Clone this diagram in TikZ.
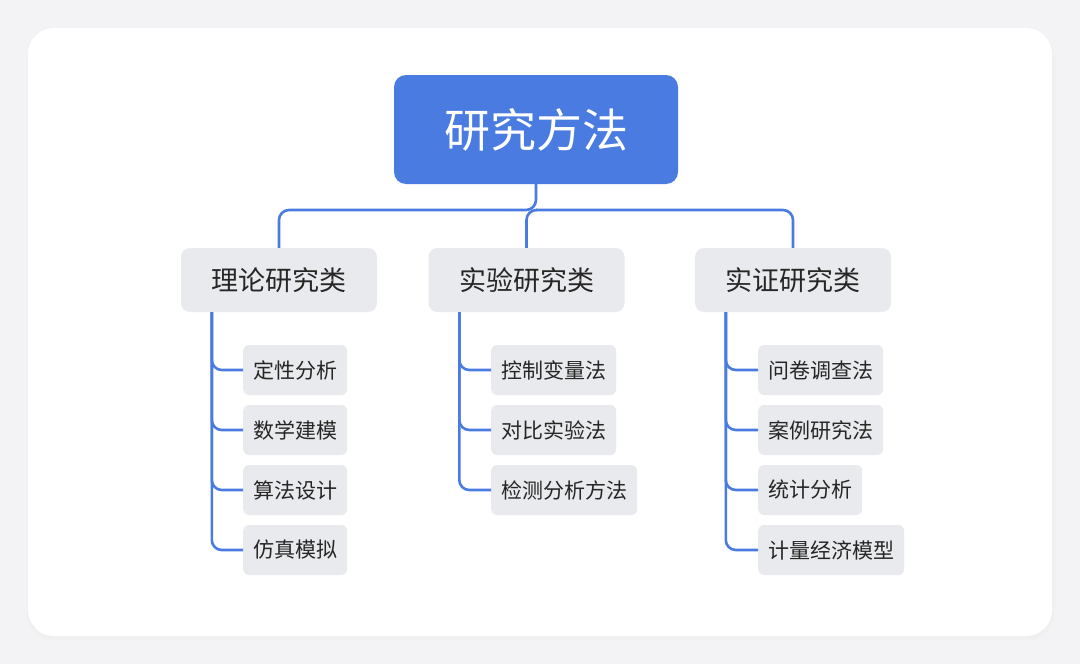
\documentclass[tikz,border=0pt]{standalone}
\usepackage{fontspec}
\setmainfont{Noto Sans CJK SC}
\usetikzlibrary{positioning}
\definecolor{rootblue}{RGB}{74,123,224}
\definecolor{catgray}{RGB}{233,234,237}
\definecolor{pagegray}{RGB}{243,243,245}
\tikzset{
  rootnode/.style={rectangle, rounded corners=12pt, fill=rootblue, text=white, minimum width=284pt, minimum height=109pt, font=\fontsize{46}{46}\selectfont},
  catnode/.style={rectangle, rounded corners=9pt, fill=catgray, text=black!85, minimum width=196pt, minimum height=64pt, font=\fontsize{27}{27}\selectfont},
  itemnode/.style={rectangle, rounded corners=6pt, fill=catgray, text=black!85, minimum height=50pt, inner xsep=10pt, font=\fontsize{21}{21}\selectfont, anchor=west},
  link/.style={draw=rootblue, line width=2.6pt, rounded corners=10pt}
}
\begin{document}
\begin{tikzpicture}[x=1pt, y=-1pt]
  % Background and card
  \fill[pagegray] (0,0) rectangle (1080,664);
  \fill[black!6, rounded corners=26pt] (27,31) rectangle (1054,640);
  \fill[white, rounded corners=26pt] (28,28) rectangle (1052,636);
  % Root and categories
  \node[rootnode] (root) at (536,129.5) {研究方法};
  \node[catnode] (theory) at (279,280) {理论研究类};
  \node[catnode] (exper) at (526.5,280) {实验研究类};
  \node[catnode] (empir) at (793,280) {实证研究类};
  \coordinate (split) at (536,210);
  \draw[link] (root.south) -- (split) -| (theory.north);
  \draw[link] (split) -| (empir.north);
  \draw[link] (split) -| (exper.north);
  % Items
  \foreach \i/\txt in {1/定性分析, 2/数学建模, 3/算法设计, 4/仿真模拟} {
    \node[itemnode] (theory\i) at (243, 310+60*\i) {\txt};
    \draw[link] ([xshift=31pt]theory.south west) |- (theory\i.west);
  }
  \foreach \i/\txt in {1/控制变量法, 2/对比实验法, 3/检测分析方法} {
    \node[itemnode] (exper\i) at (491, 310+60*\i) {\txt};
    \draw[link] ([xshift=31pt]exper.south west) |- (exper\i.west);
  }
  \foreach \i/\txt in {1/问卷调查法, 2/案例研究法, 3/统计分析, 4/计量经济模型} {
    \node[itemnode] (empir\i) at (758, 310+60*\i) {\txt};
    \draw[link] ([xshift=31pt]empir.south west) |- (empir\i.west);
  }
\end{tikzpicture}
\end{document}
